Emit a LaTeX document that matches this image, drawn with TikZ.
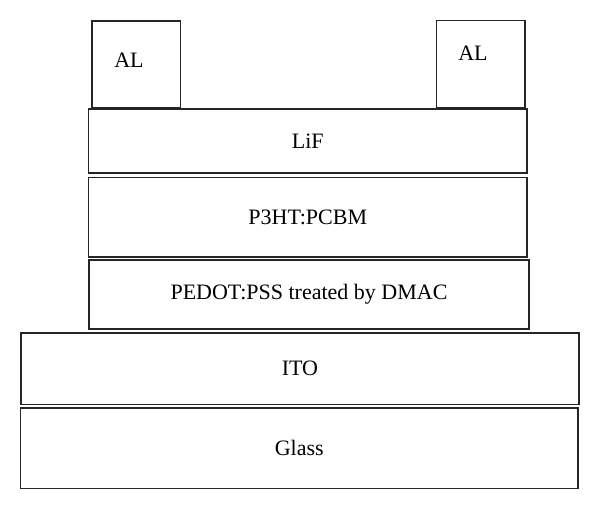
\documentclass[tikz,border=0pt]{standalone}
\usepackage{fontspec}
\setmainfont{Liberation Serif}
\begin{document}
\begin{tikzpicture}[x=0.75pt,y=-0.75pt,
  layer/.style={draw=black!85, line width=1.4pt, inner sep=0pt, outer sep=0pt,
    font=\fontsize{16.5pt}{19pt}\selectfont},
  lbl/.style={inner sep=0pt, font=\fontsize{16.5pt}{19pt}\selectfont}]
\useasboundingbox (0,0) rectangle (600,510);
\node[layer, minimum width=88.5*0.75pt, minimum height=87*0.75pt] (all) at (136.25,64.5) {};
\node[lbl] (alltext) at (129,60) {AL};
\node[layer, minimum width=88.5*0.75pt, minimum height=87*0.75pt] (alr) at (480.75,64) {};
\node[lbl] (alrtext) at (473,53) {AL};
\node[layer, minimum width=438.5*0.75pt, minimum height=64*0.75pt] (lif) at (307.75,141) {LiF};
\node[layer, minimum width=438.5*0.75pt, minimum height=79.5*0.75pt] (p3ht) at (307.75,217.25) {P3HT:PCBM};
\node[layer, minimum width=440*0.75pt, minimum height=69*0.75pt] (pedot) at (309,294.5) {PEDOT:PSS treated by DMAC};
\node[layer, minimum width=558*0.75pt, minimum height=71.5*0.75pt] (ito) at (300,368.75) {ITO};
\node[layer, minimum width=557.5*0.75pt, minimum height=80.5*0.75pt] (glass) at (299.25,448.25) {Glass};
\end{tikzpicture}
\end{document}
